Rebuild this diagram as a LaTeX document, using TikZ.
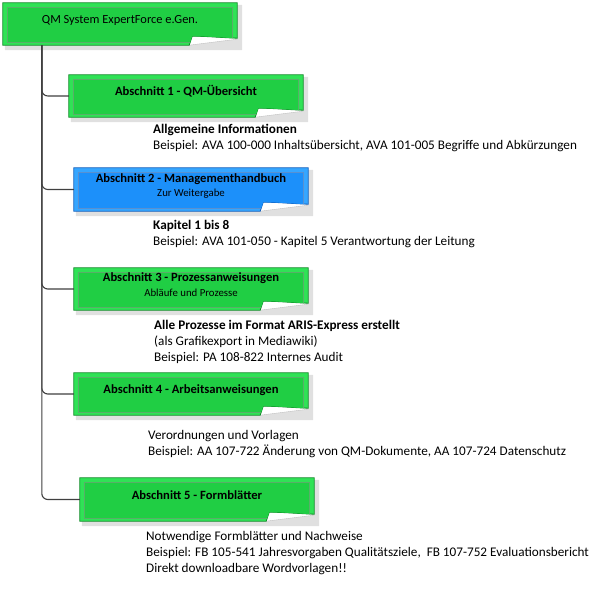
\documentclass[tikz,border=0pt]{standalone}
\usepackage{fontspec}
\setmainfont{Carlito}
\usetikzlibrary{calc}
\pgfdeclarelayer{bottom}
\pgfdeclarelayer{bg}
\pgfsetlayers{bottom,bg,main}
\definecolor{gband}{RGB}{48,226,86}
\definecolor{gfill}{RGB}{32,206,68}
\definecolor{gdark}{RGB}{16,140,40}
\definecolor{bband}{RGB}{54,166,255}
\definecolor{bfill}{RGB}{28,144,250}
\definecolor{bdark}{RGB}{16,96,190}
\definecolor{linec}{RGB}{64,64,64}
\newcommand\foldbox[4]{%
 \begin{pgfonlayer}{bg}
  \path let \p1=(#1.north west), \p2=(#1.south east) in
   [fill=black, opacity=.07]
   (\x1+2pt,\y1-2pt) -- (\x2+5pt,\y1-2pt) -- (\x2+5pt,\y2-5pt) -- (\x1+2pt,\y2-5pt) -- cycle
   [fill=black, opacity=.12]
   (\x1+3pt,\y1-3pt) -- (\x2+3.5pt,\y1-3pt) -- (\x2+3.5pt,\y2-3.5pt) -- (\x1+3pt,\y2-3.5pt) -- cycle;
  \path let \p1=(#1.north west), \p2=(#1.south east) in
   [fill=white, draw=black!25, line width=.4pt]
   (\x2-45pt,\y2+9pt) -- (\x2-48pt,\y2) -- (\x2,\y2+6pt) -- (\x2,\y2+7pt)
     .. controls (\x2-15pt,\y2+7.5pt) and (\x2-30pt,\y2+9pt) .. cycle;
  \path let \p1=(#1.north west), \p2=(#1.south east) in
   [fill=#3, draw=#4, line width=.8pt]
   (\x1,\y1) -- (\x2,\y1) -- (\x2,\y2+7pt)
     .. controls (\x2-15pt,\y2+7.5pt) and (\x2-30pt,\y2+9pt) .. (\x2-45pt,\y2+9pt)
     -- (\x2-48pt,\y2) -- (\x1,\y2) -- cycle;
  \begin{scope}
   \path[clip] let \p1=(#1.north west), \p2=(#1.south east) in
     (\x1,\y1) -- (\x2,\y1) -- (\x2,\y2+7pt)
     .. controls (\x2-15pt,\y2+7.5pt) and (\x2-30pt,\y2+9pt) .. (\x2-45pt,\y2+9pt)
     -- (\x2-48pt,\y2) -- (\x1,\y2) -- cycle;
   \path let \p1=(#1.north west), \p2=(#1.south east) in
    [fill=#2, draw=#4!70, line width=.5pt]
    (\x1+4.5pt,\y1-4.5pt) rectangle (\x2-4.5pt,\y2+3pt);
  \end{scope}
 \end{pgfonlayer}}
\tikzset{
 boxn/.style={minimum width=234pt, inner sep=0pt, draw=none},
 title/.style={font=\fontsize{12.6}{14}\selectfont\bfseries, inner sep=0pt},
 sub/.style={font=\fontsize{10.8}{12}\selectfont, inner sep=0pt},
 info/.style={font=\fontsize{13.2}{15.8}\selectfont, align=left, anchor=base west, inner sep=0pt},
 conn/.style={draw=linec, line width=1.1pt, rounded corners=6pt},
}
\begin{document}
\begin{tikzpicture}[x=1pt,y=-1pt]
\begin{pgfonlayer}{bottom}
\fill[white] (0,0) rectangle (595,599);
\end{pgfonlayer}
\useasboundingbox (0,0) rectangle (595,599);
% boxes
\node[boxn, minimum height=42pt] (top) at (120,24) {};
\node[boxn, minimum height=42pt] (b1) at (186,96) {};
\node[boxn, minimum height=43pt] (b2) at (191,189.5) {};
\node[boxn, minimum height=42pt] (b3) at (191,289) {};
\node[boxn, minimum height=42pt] (b4) at (191,394) {};
\node[boxn, minimum height=43pt] (b5) at (197,499.5) {};
\foldbox{top}{gfill}{gband}{gdark}
\foldbox{b1}{gfill}{gband}{gdark}
\foldbox{b2}{bfill}{bband}{bdark}
\foldbox{b3}{gfill}{gband}{gdark}
\foldbox{b4}{gfill}{gband}{gdark}
\foldbox{b5}{gfill}{gband}{gdark}
% titles
\node[title, font=\fontsize{12.4}{14}\selectfont] (tt) at (120,20) {QM System ExpertForce e.Gen.};
\node[title] (t1) at (186,91) {Abschnitt 1 - QM-Übersicht};
\node[title] (t2) at (191,179) {Abschnitt 2 - Managementhandbuch};
\node[sub] (s2) at (191,193.5) {Zur Weitergabe};
\node[title] (t3) at (191,278) {Abschnitt 3 - Prozessanweisungen};
\node[sub] (s3) at (191,293) {Abläufe und Prozesse};
\node[title] (t4) at (191,390) {Abschnitt 4 - Arbeitsanweisungen};
\node[title] (t5) at (197,495) {Abschnitt 5 - Formblätter};
% connectors
\coordinate (trunk) at ($(top.south west)+(39,0)$);
\draw[conn] (trunk) |- (b1.west);
\draw[conn] (trunk) |- (b2.west);
\draw[conn] (trunk) |- (b3.west);
\draw[conn] (trunk) |- (b4.west);
\draw[conn] (trunk) |- (b5.west);
% info texts (base = baseline of last line)
\node[info] (i1) at (153,149.5) {\textbf{Allgemeine Informationen}\\Beispiel: AVA 100-000 Inhaltsübersicht, AVA 101-005 Begriffe und Abkürzungen};
\node[info] (i2) at (153,245.5) {\textbf{Kapitel 1 bis 8}\\Beispiel: AVA 101-050 - Kapitel 5 Verantwortung der Leitung};
\node[info] (i3) at (154,361.5) {\textbf{Alle Prozesse im Format ARIS-Express erstellt}\\(als Grafikexport in Mediawiki)\\Beispiel: PA 108-822 Internes Audit};
\node[info] (i4) at (148,455.5) {Verordnungen und Vorlagen\\Beispiel: AA 107-722 Änderung von QM-Dokumente, AA 107-724 Datenschutz};
\node[info] (i5) at (146,572.5) {Notwendige Formblätter und Nachweise\\Beispiel: FB 105-541 Jahresvorgaben Qualitätsziele,\ \ FB 107-752 Evaluationsbericht\\Direkt downloadbare Wordvorlagen!!};
\end{tikzpicture}
\end{document}
